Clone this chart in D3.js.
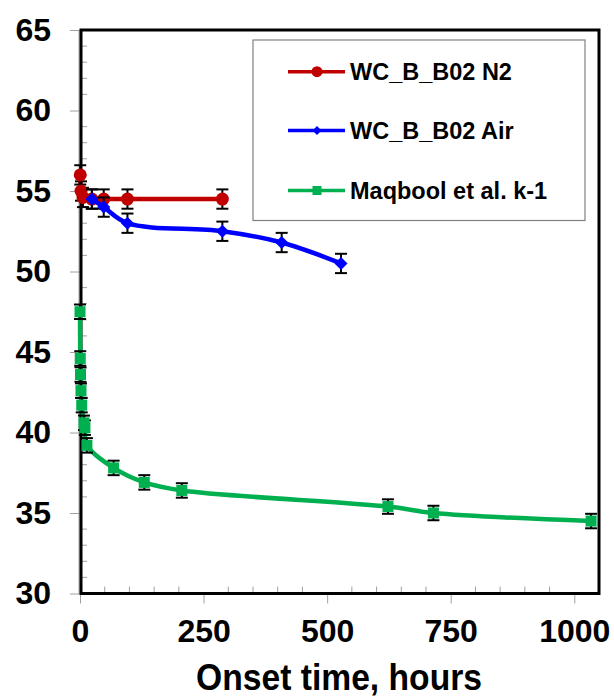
<!DOCTYPE html>
<html>
<head>
<meta charset="utf-8">
<script src="https://cdn.jsdelivr.net/npm/d3@7"></script>
<style>
  html, body { margin: 0; padding: 0; background: #ffffff; }
  svg { display: block; font-family: "Liberation Sans", Arial, sans-serif; }
</style>
</head>
<body>
<svg id="chart" width="614" height="698"></svg>
<script>
// ==============================
// DATA
// ==============================

const n2Hours = [0.5, 2, 6, 24, 48, 96, 288];
const n2Values = [56.0, 55.0, 54.6, 54.5, 54.5, 54.5, 54.5];

const airHours = [24, 48, 96, 288, 408, 528];
const airValues = [54.5, 54.0, 53.0, 52.5, 51.8, 50.5];

const maqHours = [0, 0.5, 1, 2, 3.5, 8, 10, 14, 68, 130, 206, 623, 715, 1034];
const maqValues = [47.5, 44.6, 43.6, 42.6, 41.7, 40.6, 40.3, 39.2, 37.8, 36.9, 36.4, 35.4, 35.0, 34.5];

const seriesNames = ["WC_B_B02 N2", "WC_B_B02 Air", "Maqbool et al. k-1"];
const errorSizes = [0.6, 0.6, 0.45];

const xTicks = [0, 250, 500, 750, 1000];
const yTicks = [30, 35, 40, 45, 50, 55, 60, 65];

const xTitle = "Onset time, hours";

// ==============================
// SETUP
// ==============================

const svg = d3.select("#chart");

const plotLeft = 80;
const plotRight = 599;
const plotTop = 30;
const plotBottom = 593.5;

const x = d3.scaleLinear().domain([0, 1050]).range([plotLeft, plotRight]);
const y = d3.scaleLinear().domain([30, 65]).range([plotBottom, plotTop]);

const series = [
  { name: seriesNames[0], hours: n2Hours, values: n2Values, color: "#c00000", marker: "circle", err: errorSizes[0] },
  { name: seriesNames[1], hours: airHours, values: airValues, color: "#0000ff", marker: "diamond", err: errorSizes[1] },
  { name: seriesNames[2], hours: maqHours, values: maqValues, color: "#00b050", marker: "square", err: errorSizes[2] }
];

function markerPath(type, size) {
  if (type === "circle") return d3.symbol(d3.symbolCircle, size * size * Math.PI / 4)();
  const h = size / 2;
  if (type === "diamond") {
    return `M0,${-h}L${h},0L0,${h}L${-h},0Z`;
  }
  return `M${-h},${-h}H${h}V${h}H${-h}Z`;
}

// ==============================
// AXES
// ==============================

// minor ticks inside the plot
const yMinor = d3.range(31, 65, 1).filter(v => v % 5 !== 0);
svg.append("g")
  .selectAll("line")
  .data(yMinor)
  .enter()
  .append("line")
  .attr("x1", plotLeft)
  .attr("x2", plotLeft + 7)
  .attr("y1", d => y(d))
  .attr("y2", d => y(d))
  .attr("stroke", "#a0a0a0")
  .attr("stroke-width", 1);

const xMinor = d3.range(50, 1050, 50).filter(v => v % 250 !== 0);
svg.append("g")
  .selectAll("line")
  .data(xMinor)
  .enter()
  .append("line")
  .attr("x1", d => x(d))
  .attr("x2", d => x(d))
  .attr("y1", plotBottom)
  .attr("y2", plotBottom - 7)
  .attr("stroke", "#a0a0a0")
  .attr("stroke-width", 1);

const yAxis = d3.axisLeft(y)
  .tickValues(yTicks)
  .tickSize(10)
  .tickPadding(19);

svg.append("g")
  .attr("transform", `translate(${plotLeft},0)`)
  .call(yAxis)
  .call(g => g.select(".domain").remove())
  .call(g => g.selectAll(".tick line").attr("stroke", "#a0a0a0"))
  .call(g => g.selectAll(".tick text")
    .attr("font-size", 32)
    .attr("font-weight", "bold")
    .attr("font-family", "Liberation Sans, Arial, sans-serif")
    .attr("fill", "#000"));

const xAxis = d3.axisBottom(x)
  .tickValues(xTicks)
  .tickFormat(d3.format("d"))
  .tickSize(10)
  .tickPadding(16);

svg.append("g")
  .attr("transform", `translate(0,${plotBottom})`)
  .call(xAxis)
  .call(g => g.select(".domain").remove())
  .call(g => g.selectAll(".tick line").attr("stroke", "#a0a0a0"))
  .call(g => g.selectAll(".tick text")
    .attr("font-size", 32)
    .attr("font-weight", "bold")
    .attr("font-family", "Liberation Sans, Arial, sans-serif")
    .attr("fill", "#000"));

// plot frame
svg.append("line")
  .attr("x1", plotLeft - 1).attr("x2", plotLeft - 1)
  .attr("y1", plotTop).attr("y2", plotBottom)
  .attr("stroke", "#a0a0a0").attr("stroke-width", 1);

svg.append("rect")
  .attr("x", plotLeft + 1)
  .attr("y", plotTop)
  .attr("width", plotRight - plotLeft - 1)
  .attr("height", plotBottom - plotTop)
  .attr("fill", "none")
  .attr("stroke", "#000")
  .attr("stroke-width", 3);

svg.append("text")
  .attr("x", 339)
  .attr("y", 690)
  .attr("text-anchor", "middle")
  .attr("font-size", 37)
  .attr("font-weight", "bold")
  .attr("textLength", 286)
  .attr("lengthAdjust", "spacingAndGlyphs")
  .text(xTitle);

// ==============================
// SERIES
// ==============================

const line = d3.line()
  .x(d => x(d[0]))
  .y(d => y(d[1]))
  .curve(d3.curveCatmullRom.alpha(0.5));

series.forEach(s => {
  const pts = s.hours.map((h, i) => [h, s.values[i]]);
  const g = svg.append("g");

  g.append("path")
    .datum(pts)
    .attr("d", line)
    .attr("fill", "none")
    .attr("stroke", s.color)
    .attr("stroke-width", 4.5)
    .attr("stroke-linejoin", "round");

  // error bars
  const bars = g.append("g")
    .selectAll("g")
    .data(pts)
    .enter()
    .append("g")
    .attr("stroke", "#000")
    .attr("stroke-width", 2);

  bars.append("line")
    .attr("x1", d => x(d[0])).attr("x2", d => x(d[0]))
    .attr("y1", d => y(d[1] + s.err)).attr("y2", d => y(d[1] - s.err));

  bars.append("line")
    .attr("x1", d => x(d[0]) - 6).attr("x2", d => x(d[0]) + 6)
    .attr("y1", d => y(d[1] + s.err)).attr("y2", d => y(d[1] + s.err));

  bars.append("line")
    .attr("x1", d => x(d[0]) - 6).attr("x2", d => x(d[0]) + 6)
    .attr("y1", d => y(d[1] - s.err)).attr("y2", d => y(d[1] - s.err));

  const size = s.marker === "square" ? 11 : 13;

  g.append("g")
    .selectAll("path")
    .data(pts)
    .enter()
    .append("path")
    .attr("d", markerPath(s.marker, size))
    .attr("transform", d => `translate(${x(d[0])},${y(d[1])})`)
    .attr("fill", s.color);
});

// ==============================
// LEGEND
// ==============================

const legend = svg.append("g");

legend.append("rect")
  .attr("x", 253)
  .attr("y", 40)
  .attr("width", 332)
  .attr("height", 180.5)
  .attr("fill", "#fff")
  .attr("stroke", "#808080")
  .attr("stroke-width", 1.2);

const legendRows = [71.7, 130.5, 190.5];

series.forEach((s, i) => {
  const ly = legendRows[i];

  legend.append("line")
    .attr("x1", 288).attr("x2", 345)
    .attr("y1", ly).attr("y2", ly)
    .attr("stroke", s.color)
    .attr("stroke-width", 3.5);

  legend.append("path")
    .attr("d", markerPath(s.marker, s.marker === "circle" ? 11 : 9))
    .attr("transform", `translate(317,${ly})`)
    .attr("fill", s.color);

  legend.append("text")
    .attr("x", 350)
    .attr("y", ly + 8)
    .attr("font-size", 23.5)
    .attr("font-weight", "bold")
    .text(s.name);
});
</script>
</body>
</html>
